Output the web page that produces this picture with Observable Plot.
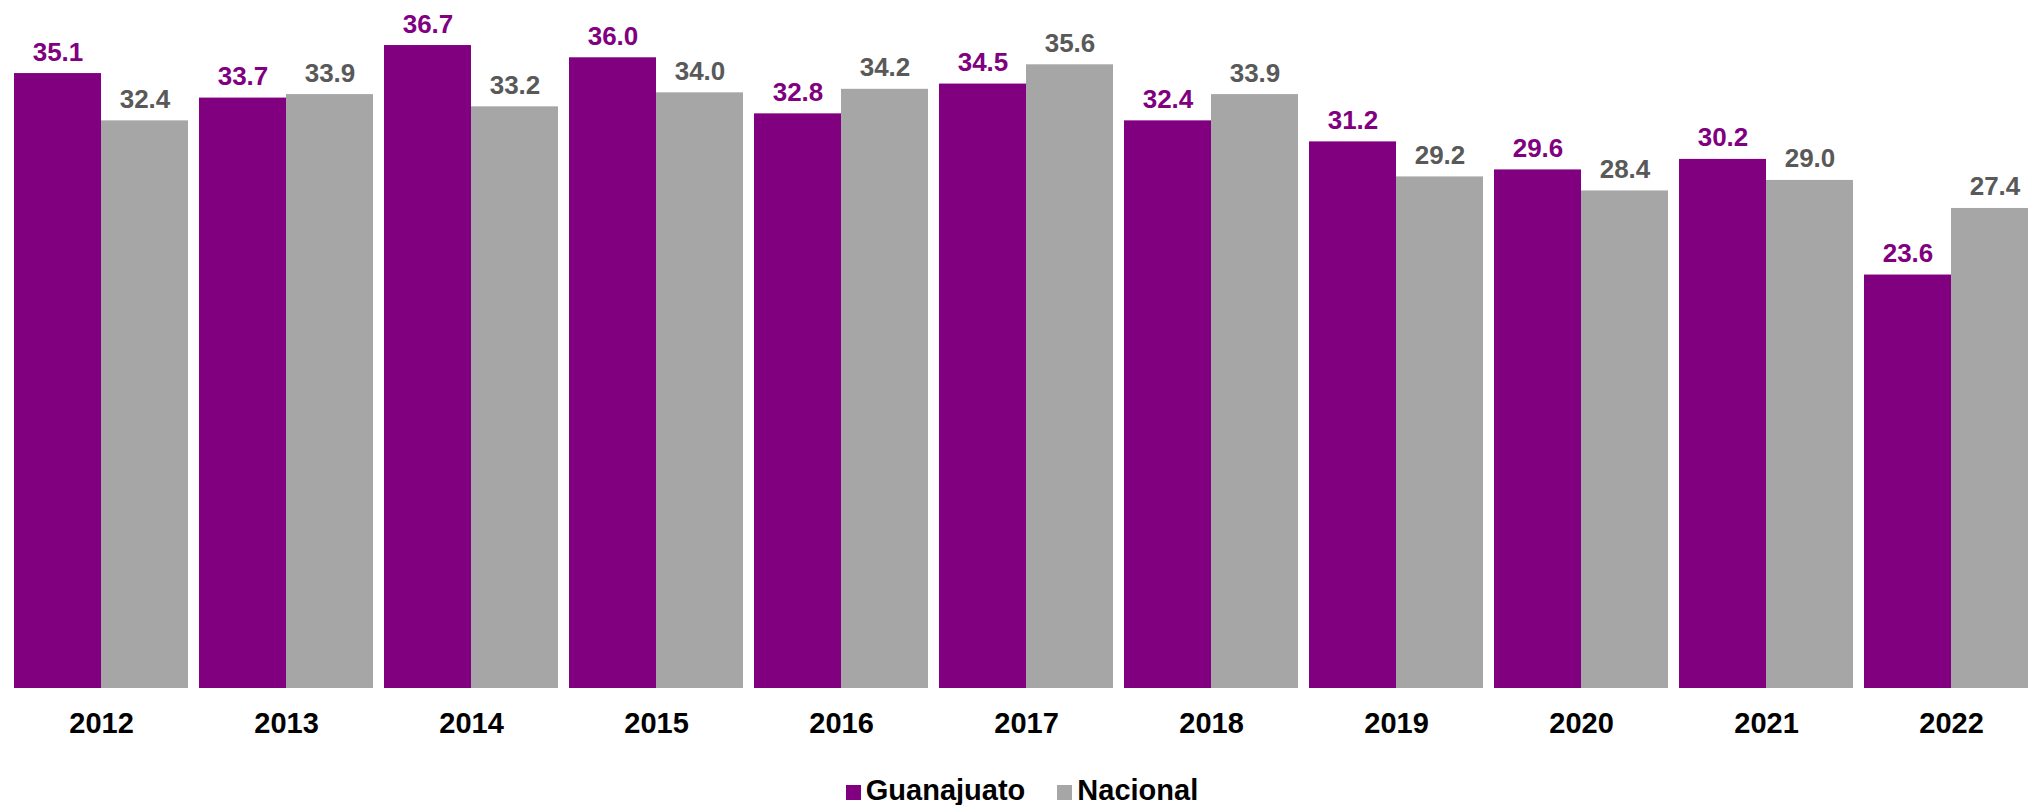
<!DOCTYPE html>
<html>
<head>
<meta charset="utf-8">
<script src="https://cdn.jsdelivr.net/npm/d3@7"></script>
<script src="https://cdn.jsdelivr.net/npm/@observablehq/plot@0.6"></script>
<style>
  html, body { margin: 0; padding: 0; background: #fff; overflow: hidden; width: 2028px; height: 805px; }
  #chart { width: 2028px; overflow: hidden; }
  #chart svg { display: block; max-width: none !important; }
  #legend {
    font-family: "Liberation Sans", Arial, sans-serif;
    font-weight: bold; font-size: 29px; line-height: 40px; color: #000;
    display: flex; justify-content: center; width: 2028px; padding-left: 16px; box-sizing: border-box;
  }
  #legend .item { white-space: nowrap; }
  #legend .item + .item { margin-left: 32px; }
  #legend .sw { display: inline-block; width: 15px; height: 15px; margin-right: 5px; vertical-align: baseline; }
</style>
</head>
<body>
<div id="chart"></div>
<div id="legend"></div>
<script>
const years = ["2012","2013","2014","2015","2016","2017","2018","2019","2020","2021","2022"];
const series = ["Guanajuato", "Nacional"];
const guanajuato = [35.1, 33.7, 36.7, 36.0, 32.8, 34.5, 32.4, 31.2, 29.6, 30.2, 23.6];
const nacional = [32.4, 33.9, 33.2, 34.0, 34.2, 35.6, 33.9, 29.2, 28.4, 29.0, 27.4];
const barColors = ["#800080", "#A6A6A6"];
const labelColors = ["#800080", "#595959"];

const data = [];
years.forEach((yr, i) => {
  data.push({year: yr, series: series[0], value: guanajuato[i]});
  data.push({year: yr, series: series[1], value: nacional[i]});
});

const plot = Plot.plot({
  width: 2048,
  height: 770,
  marginLeft: 5,
  marginRight: 0,
  marginTop: 0,
  marginBottom: 82,
  style: {fontFamily: "'Liberation Sans', Arial, sans-serif", background: "#fff"},
  fx: {domain: years, paddingInner: 0.058, paddingOuter: 0.029, label: null, axis: null},
  x: {domain: series, padding: 0, axis: null},
  y: {domain: [0, 39.27], axis: null},
  color: {domain: series, range: barColors},
  marks: [
    Plot.barY(data, {fx: "year", x: "series", y: "value", fill: "series"}),
    Plot.text(data, {
      fx: "year", x: "series", y: "value",
      text: d => d.value.toFixed(1),
      lineAnchor: "bottom", dy: -13,
      fill: d => labelColors[series.indexOf(d.series)],
      fontSize: 26, fontWeight: "bold"
    }),
    Plot.axisFx({anchor: "bottom", tickSize: 0, tickPadding: 24, fontSize: 29, fontWeight: "bold", fill: "#000", label: null})
  ]
});
plot.style.maxWidth = "none";
document.getElementById("chart").appendChild(plot);

const legend = document.getElementById("legend");
series.forEach((s, i) => {
  const item = document.createElement("span");
  item.className = "item";
  const sw = document.createElement("span");
  sw.className = "sw";
  sw.style.background = barColors[i];
  item.appendChild(sw);
  item.appendChild(document.createTextNode(s));
  legend.appendChild(item);
});
</script>
</body>
</html>
